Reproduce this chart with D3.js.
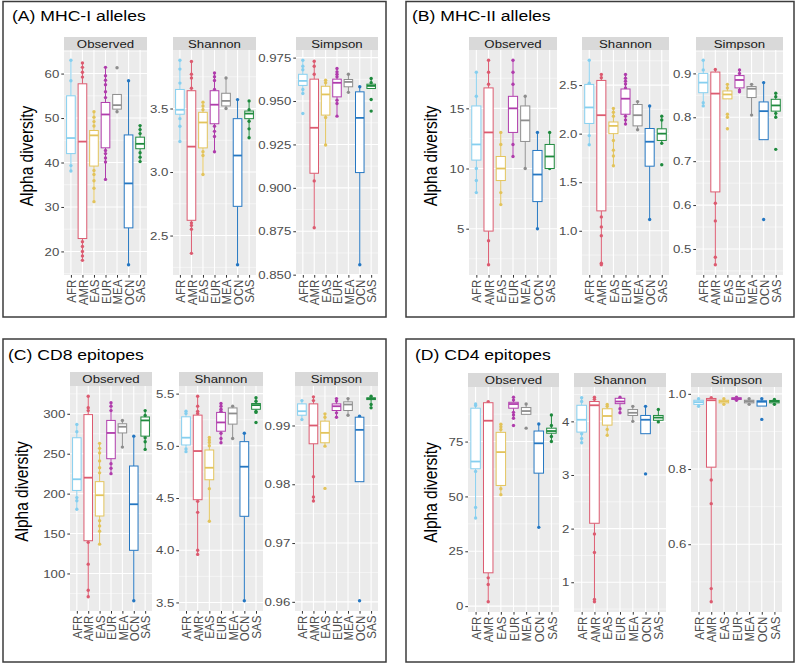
<!DOCTYPE html>
<html><head><meta charset="utf-8">
<script src="https://cdn.jsdelivr.net/npm/d3@7"></script>
<style>body{margin:0;background:#fff} svg{display:block;font-family:"Liberation Sans",Arial,sans-serif}</style>
</head><body><svg id="c" width="796" height="664"></svg>
<script>
// ---------- DATA ----------
const populations = ["AFR","AMR","EAS","EUR","MEA","OCN","SAS"];
const popColors = ["#86CFEF","#DC5B70","#E3C45C","#B03DAC","#8E8E8E","#2577C2","#1F8A3E"];
const metrics = ["Observed","Shannon","Simpson"];
const panelTitles = ["(A) MHC-I alleles","(B) MHC-II alleles","(C) CD8 epitopes","(D) CD4 epitopes"];
const yTitle = "Alpha diversity";

// box stats per population: [lower whisker, Q1, median, Q3, upper whisker]
// (A) MHC-I alleles
const mhcI_obs_box = [[38,42,45.5,55,63],[18,22.9,44.7,57.7,62.4],[31.2,39.2,46.1,47.2,51.4],[36.2,43.3,50.8,53.5,61.4],[51.4,52,52.9,55.3,55.3],[17,25.3,35.3,46.2,58.4],[40.2,43.1,44.2,45.7,48.3]];
const mhcI_obs_pts = [[63,58.4,39.3,38.1],[62.4,61.4,60.3,59.2,22.2,21.1,20,19,18],[51.4,50.2,49.2,48.2,38.2,37.3,35.9,34.2,31.2],[61.4,59.5,58.5,57.5,55.9,54.6,42.7,42,41,40.1,36.2],[61.3,51.4],[58.4,17],[48.3,47.4,46.5,42.2,41.2,40.2]];
const mhcI_obs_ticks = ["20","30","40","50","60"];
const mhcI_sha_box = [[3.24,3.455,3.49,3.65,3.88],[2.36,2.62,3.2,3.64,3.87],[2.98,3.19,3.39,3.47,3.55],[3.16,3.38,3.53,3.64,3.78],[3.5,3.52,3.56,3.62,3.74],[2.27,2.73,3.13,3.42,3.57],[3.27,3.42,3.46,3.48,3.56]];
const mhcI_sha_pts = [[3.88,3.81,3.7,3.42,3.36,3.24],[3.87,3.77,3.74,3.66,2.6,2.58,2.55,2.36],[3.55,3.52,3.49,3.16,3.13,2.98],[3.78,3.75,3.72,3.65,3.36,3.32,3.28,3.16],[3.74,3.5],[3.57,2.27],[3.56,3.49,3.4,3.34,3.27]];
const mhcI_sha_ticks = ["2.5","3.0","3.5"];
const mhcI_sim_box = [[0.9543,0.959,0.9616,0.9654,0.9735],[0.877,0.9084,0.9346,0.9626,0.9729],[0.9247,0.9419,0.9538,0.9585,0.962],[0.9413,0.9524,0.9605,0.9626,0.9687],[0.955,0.9582,0.961,0.9624,0.9654],[0.8557,0.9088,0.9403,0.9553,0.9582],[0.9572,0.9572,0.9587,0.9597,0.963]];
const mhcI_sim_pts = [[0.9735,0.97,0.968,0.9566,0.9543,0.9428],[0.9729,0.97,0.9654,0.904,0.877],[0.962,0.9605,0.9405,0.9247],[0.9687,0.9668,0.9654,0.964,0.9505,0.9486,0.9413],[0.9654,0.955],[0.9582,0.8557],[0.963,0.9605,0.9509,0.9442]];
const mhcI_sim_ticks = ["0.850","0.875","0.900","0.925","0.950","0.975"];

// (B) MHC-II alleles
const mhcII_obs_box = [[8,10.7,12,15.2,18],[2,4.8,13,16.7,19],[7,9,10,11,13],[11,13,15,16,19],[10,12.25,14,15.2,16],[5,7.25,9.5,11.5,13],[10,10,11,12,13]];
const mhcII_obs_pts = [[18,16,10,9,8],[19,18,17,4,2],[13,12,8,7],[19,18,17,12,11],[16,10],[13,5],[13,10]];
const mhcII_obs_ticks = ["5","10","15"];
const mhcII_sha_box = [[1.886,2.105,2.27,2.507,2.756],[0.65,1.205,2.19,2.548,2.61],[1.67,2.0,2.08,2.12,2.26],[2.1,2.2,2.36,2.46,2.61],[2.04,2.08,2.19,2.3,2.33],[1.116,1.665,1.917,2.053,2.285],[1.9,1.93,2.0,2.05,2.18]];
const mhcII_sha_pts = [[2.756,2.52,1.98,1.886],[2.61,2.575,1.143,1.04,0.949,0.666,0.65],[2.26,2.22,2.18,1.93,1.83,1.77,1.67],[2.61,2.57,2.54,2.51,2.47,2.18,2.14,2.1],[2.33,2.04],[2.285,1.116],[2.18,2.14,1.9,1.68]];
const mhcII_sha_ticks = ["1.0","1.5","2.0","2.5"];
const mhcII_sim_box = [[0.826,0.856,0.879,0.9,0.93],[0.464,0.63,0.854,0.903,0.909],[0.842,0.842,0.852,0.86,0.875],[0.858,0.867,0.885,0.895,0.908],[0.805,0.845,0.865,0.87,0.875],[0.749,0.749,0.814,0.835,0.879],[0.8,0.814,0.827,0.841,0.855]];
const mhcII_sim_pts = [[0.93,0.908,0.833,0.826],[0.909,0.604,0.564,0.481,0.464],[0.875,0.867,0.807,0.8,0.774],[0.908,0.9,0.862,0.858],[0.875,0.805],[0.879,0.567],[0.855,0.847,0.809,0.8,0.727]];
const mhcII_sim_ticks = ["0.5","0.6","0.7","0.8","0.9"];

// (C) CD8 epitopes
const cd8_obs_box = [[180.4,204,218,270,286.7],[70.8,141,220,299,322],[136.7,172,198,215,263],[225,243.75,276,291.7,313.75],[258.3,276,283.75,287.5,291.7],[65.8,129,186.7,234.6,272],[255.4,272,291.7,296,304]];
const cd8_obs_pts = [[286.7,277.5,195,191,180.4],[322,307.5,304,139,111.7,79,70.8],[263,256.7,251,241,232.5,226,166,159.6,153,136.7],[313.75,309.6,304,237.5,231.7,225],[291.7,258.3],[272,65.8],[304,298,270,265,255.4]];
const cd8_obs_ticks = ["100","150","200","250","300"];
const cd8_sha_box = [[4.944,5.008,5.078,5.278,5.332],[3.96,4.484,4.95,5.294,5.475],[4.278,4.675,4.79,4.96,5.08],[5.03,5.14,5.224,5.32,5.405],[5.07,5.208,5.31,5.363,5.38],[3.516,4.325,4.8,5.04,5.12],[5.32,5.35,5.39,5.405,5.46]];
const cd8_sha_pts = [[5.332,5.31,4.97,4.944],[5.475,5.38,5.33,5.31,4.468,4.363,4.0,3.96],[5.08,5.056,5.033,5.0,4.59,4.278],[5.405,5.38,5.35,5.33,5.12,5.07,5.03],[5.38,5.07],[5.12,3.516],[5.46,5.427,5.33,5.32,5.224]];
const cd8_sha_ticks = ["3.5","4.0","4.5","5.0","5.5"];
const cd8_sim_box = [[0.991,0.99175,0.99243,0.99368,0.99424],[0.97715,0.98689,0.99,0.99368,0.99487],[0.98649,0.98706,0.98875,0.99074,0.99198],[0.99141,0.99255,0.99328,0.99368,0.99458],[0.99175,0.99255,0.99357,0.99402,0.99458],[0.98044,0.98044,0.98926,0.99141,0.99158],[0.993,0.99441,0.99458,0.9947,0.99498]];
const cd8_sim_pts = [[0.99424,0.991],[0.99487,0.99424,0.98128,0.97783,0.97715],[0.99198,0.99141,0.98649,0.9793],[0.99458,0.99415,0.99215,0.99141],[0.99458,0.99175],[0.99158,0.96018],[0.99498,0.99458,0.99357,0.993]];
const cd8_sim_ticks = ["0.96","0.97","0.98","0.99"];

// (D) CD4 epitopes
const cd4_obs_box = [[40.2,62.6,65.9,90.2,92.1],[2,15.2,84.5,92.7,93.2],[50.8,55,70.2,79.2,82.9],[85.6,90.2,92.1,92.9,95.2],[87.4,87.4,88.9,90.5,92.1],[35.9,60.6,74.2,79.8,83],[75,78.8,79.8,81.1,87.1]];
const cd4_obs_pts = [[92.1,91.4,61.4,45,40.2],[93.2,12.9,9.85,2],[82.9,81.8,80.5,53.5,50.8],[95.2,93.9,88.3,87.1,85.6,82.3],[92.1,81.1],[83,35.9],[87.1,82.3,77.3,75]];
const cd4_obs_ticks = ["0","25","50","75"];
const cd4_sha_box = [[3.6,3.8,4.03,4.3,4.44],[0.636,2.1,4.3,4.37,4.45],[3.74,3.93,4.1,4.235,4.315],[4.16,4.33,4.37,4.43,4.45],[4.0,4.11,4.16,4.22,4.28],[3.77,3.77,4.03,4.11,4.28],[3.99,4.02,4.07,4.11,4.22]];
const cd4_sha_pts = [[4.44,4.37,3.77,3.68,3.6],[4.45,4.41,1.9,1.556,0.68,0.636],[4.315,4.28,3.85,3.74],[4.45,4.235,4.16],[4.28,4.0],[4.28,3.02],[4.22,3.99]];
const cd4_sha_ticks = ["1","2","3","4"];
const cd4_sim_box = [[0.967,0.972,0.978,0.983,0.987],[0.447,0.805,0.983,0.9877,0.9895],[0.972,0.976,0.98,0.983,0.987],[0.983,0.985,0.9877,0.9895,0.991],[0.972,0.976,0.98,0.983,0.987],[0.9675,0.9675,0.979,0.9815,0.987],[0.972,0.976,0.98,0.9824,0.985]];
const cd4_sim_pts = [[0.987,0.967],[0.9895,0.771,0.708,0.482,0.447],[0.987,0.972],[0.991,0.983],[0.987,0.972],[0.987,0.932],[0.985,0.972]];
const cd4_sim_ticks = ["0.6","0.8","1.0"];

// ---------- LAYOUT ----------
const panelData = [
  [[mhcI_obs_box,mhcI_obs_pts,mhcI_obs_ticks],[mhcI_sha_box,mhcI_sha_pts,mhcI_sha_ticks],[mhcI_sim_box,mhcI_sim_pts,mhcI_sim_ticks]],
  [[mhcII_obs_box,mhcII_obs_pts,mhcII_obs_ticks],[mhcII_sha_box,mhcII_sha_pts,mhcII_sha_ticks],[mhcII_sim_box,mhcII_sim_pts,mhcII_sim_ticks]],
  [[cd8_obs_box,cd8_obs_pts,cd8_obs_ticks],[cd8_sha_box,cd8_sha_pts,cd8_sha_ticks],[cd8_sim_box,cd8_sim_pts,cd8_sim_ticks]],
  [[cd4_obs_box,cd4_obs_pts,cd4_obs_ticks],[cd4_sha_box,cd4_sha_pts,cd4_sha_ticks],[cd4_sim_box,cd4_sim_pts,cd4_sim_ticks]]
];
const layout = [
  {box:[3,1.5,386,317], title:[12,21], ytx:27, strip:[37,50], plot:[50,275], facets:[[64,147],[173,256],[296,378]]},
  {box:[406,1.5,794,317], title:[412,21], ytx:431, strip:[37,50], plot:[50,275], facets:[[469,557],[582,669],[696,783]]},
  {box:[3,339,386,662], title:[8,360], ytx:22, strip:[372,386], plot:[386,611], facets:[[70,152],[179,263],[295,378]]},
  {box:[406,339,794,662], title:[415,360], ytx:431, strip:[373,387], plot:[387,612], facets:[[468,559],[574,666],[691,782]]}
];

const svg = d3.select("#c");
const TS = 2.7;
const SX = 1.15; // horizontal text stretch seen in the reference

layout.forEach((L, pi) => {
  const g = svg.append("g");
  g.append("rect").attr("x",L.box[0]).attr("y",L.box[1]).attr("width",L.box[2]-L.box[0]).attr("height",L.box[3]-L.box[1])
    .attr("fill","none").attr("stroke","#3c3c3c").attr("stroke-width",1.5);
  g.append("text").attr("transform",`translate(${L.title[0]},${L.title[1]}) scale(${SX},1)`)
    .attr("font-size",15.3).attr("fill","#000").text(panelTitles[pi]);
  const cy = (L.strip[0] + L.plot[1]) / 2;
  g.append("text").attr("transform",`translate(${L.ytx},${cy}) rotate(-90) scale(1,${SX})`).attr("text-anchor","middle").attr("dy","0.35em")
    .attr("font-size",15.5).attr("fill","#000").text(yTitle);

  metrics.forEach((m, mi) => {
    const [boxes, pts, ticks] = panelData[pi][mi];
    const [fx0, fx1] = L.facets[mi];
    const x = d3.scalePoint().domain(populations).range([fx0, fx1]).padding(0.6);
    const all = boxes.flat().concat(pts.flat());
    const ext = d3.extent(all);
    const pad = (ext[1]-ext[0]) * 0.05;
    const y = d3.scaleLinear().domain([ext[0]-pad, ext[1]+pad]).range([L.plot[1], L.plot[0]]);
    const tv = ticks.map(Number);
    const fg = g.append("g");
    fg.append("rect").attr("x",fx0).attr("y",L.plot[0]).attr("width",fx1-fx0).attr("height",L.plot[1]-L.plot[0]).attr("fill","#EBEBEB");
    const step = tv[1]-tv[0];
    const minors = [];
    minors.push(tv[0]-step/2);
    for (let k=0;k<tv.length-1;k++) minors.push((tv[k]+tv[k+1])/2);
    minors.push(tv[tv.length-1]+step/2);
    const dom = y.domain();
    fg.selectAll(".mn").data(minors.filter(v=>v>dom[0]&&v<dom[1])).enter().append("line")
      .attr("x1",fx0).attr("x2",fx1).attr("y1",d=>y(d)).attr("y2",d=>y(d)).attr("stroke","#fff").attr("stroke-width",0.5);
    fg.selectAll(".mj").data(tv).enter().append("line")
      .attr("x1",fx0).attr("x2",fx1).attr("y1",d=>y(d)).attr("y2",d=>y(d)).attr("stroke","#fff").attr("stroke-width",1.1);
    fg.selectAll(".vg").data(populations).enter().append("line")
      .attr("x1",d=>x(d)).attr("x2",d=>x(d)).attr("y1",L.plot[0]).attr("y2",L.plot[1]).attr("stroke","#fff").attr("stroke-width",1.1);
    fg.append("rect").attr("x",fx0).attr("y",L.strip[0]).attr("width",fx1-fx0).attr("height",L.strip[1]-L.strip[0]).attr("fill","#D9D9D9");
    fg.append("text").attr("transform",`translate(${(fx0+fx1)/2},${(L.strip[0]+L.strip[1])/2}) scale(${SX},1)`)
      .attr("dy","0.36em").attr("text-anchor","middle")
      .attr("font-size",11.5).attr("fill","#1A1A1A").text(m);
    populations.forEach((p, k) => {
      fg.selectAll(null).data(pts[k]).enter().append("circle")
        .attr("cx",x(p)).attr("cy",d=>y(d)).attr("r",1.7).attr("fill",popColors[k]);
    });
    const bw = x.step()*0.75;
    populations.forEach((p, k) => {
      const [lo,q1,md,q3,hi] = boxes[k];
      const c = popColors[k], cx = x(p);
      fg.append("line").attr("x1",cx).attr("x2",cx).attr("y1",y(hi)).attr("y2",y(q3)).attr("stroke",c).attr("stroke-width",1);
      fg.append("line").attr("x1",cx).attr("x2",cx).attr("y1",y(q1)).attr("y2",y(lo)).attr("stroke",c).attr("stroke-width",1);
      fg.append("rect").attr("x",cx-bw/2).attr("y",y(q3)).attr("width",bw).attr("height",Math.max(0.5,y(q1)-y(q3)))
        .attr("fill","#fff").attr("stroke",c).attr("stroke-width",1);
      fg.append("line").attr("x1",cx-bw/2).attr("x2",cx+bw/2).attr("y1",y(md)).attr("y2",y(md)).attr("stroke",c).attr("stroke-width",1.8);
    });
    const ya = fg.append("g").attr("transform",`translate(${fx0},0)`)
      .call(d3.axisLeft(y).tickValues(tv).tickFormat((d,i)=>ticks[i]).tickSize(TS).tickPadding(2));
    const xa = fg.append("g").attr("transform",`translate(0,${L.plot[1]})`)
      .call(d3.axisBottom(x).tickSize(TS));
    [ya, xa].forEach(a => {
      a.select(".domain").remove();
      a.selectAll(".tick line").attr("stroke","#333").attr("stroke-width",1);
      a.selectAll(".tick text").attr("fill","#4D4D4D").attr("font-size",11.5).attr("font-family",'"Liberation Sans",Arial,sans-serif');
    });
    ya.selectAll(".tick text").attr("x",-(TS+2)/SX).attr("transform",`scale(${SX},1)`);
    xa.selectAll(".tick text").attr("transform",`rotate(-90) scale(1,${SX})`).attr("x",-(TS+2)).attr("y",0).attr("dy","0.35em").attr("text-anchor","end");
  });
});
</script></body></html>
